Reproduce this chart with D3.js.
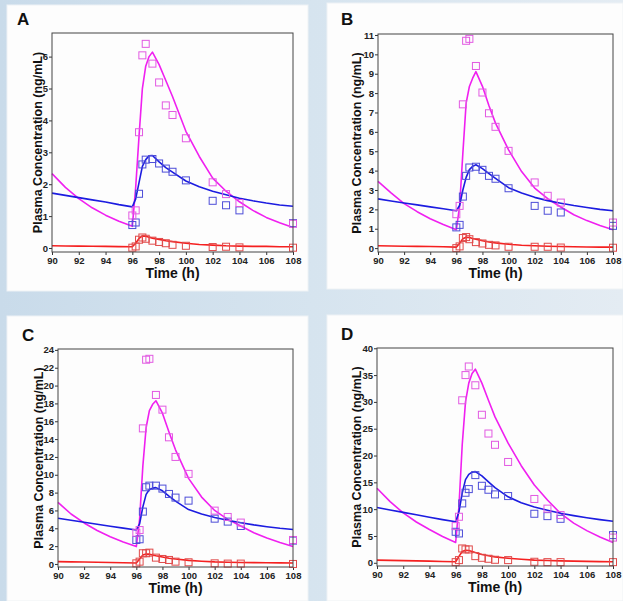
<!DOCTYPE html>
<meta charset="utf-8">
<style type="text/css">
    body {
        margin: 0;
        background: #dfe8f0;
    }
    svg {
        display: block;
    }
    text {
        font-family: "Liberation Sans", Arial, sans-serif;
        font-weight: bold;
    }
    .tick text {
        font-size: 9.5px;
        fill: #222;
    }
    .tick line {
        stroke: #333;
    }
</style>
<body>
<script src="https://cdn.jsdelivr.net/npm/d3@7"></script>
<script>
// model time grid (h)
var modelTimes = [90, 91, 92, 93, 94, 95, 96, 96.25, 96.5, 96.75, 97, 97.25, 97.5,
                  98, 98.5, 99, 100, 101, 102, 103, 104, 105, 106, 107, 108];
// observed sampling times (h)
var obsTimes = [96, 96.25, 96.5, 96.75, 97, 97.5, 98, 98.5, 99, 100, 102, 103, 104, 108];

var xTicks = [90, 92, 94, 96, 98, 100, 102, 104, 106, 108];

// Panel A
var modelA_mag  = [2.33, 1.90, 1.55, 1.26, 1.03, 0.84, 0.68, 1.9, 3.5, 5.0, 5.7, 6.0, 6.14,
                   5.75, 5.25, 4.75, 3.66, 2.87, 2.19, 1.78, 1.45, 1.18, 0.96, 0.79, 0.64];
var modelA_blue = [1.72, 1.65, 1.58, 1.51, 1.44, 1.36, 1.29, 1.54, 2.05, 2.56, 2.77, 2.89, 2.9,
                   2.7, 2.52, 2.38, 2.1, 1.92, 1.78, 1.67, 1.56, 1.48, 1.41, 1.35, 1.31];
var modelA_red  = [0.07, 0.065, 0.06, 0.055, 0.05, 0.045, 0.04, 0.15, 0.30, 0.38, 0.37, 0.34, 0.31,
                   0.27, 0.23, 0.20, 0.15, 0.11, 0.09, 0.07, 0.06, 0.05, 0.05, 0.04, 0.04];
var obsA_mag  = [1.02, 1.18, 3.63, 6.04, 6.4, 5.78, 5.19, 4.47, 4.17, 3.44, 2.06, 1.69, 1.41, 0.76];
var obsA_blue = [0.72, 0.80, 1.70, 2.62, 2.77, 2.79, 2.65, 2.49, 2.39, 2.12, 1.48, 1.34, 1.18, 0.78];
var obsA_red  = [0.01, 0.05, 0.26, 0.33, 0.29, 0.23, 0.19, 0.15, 0.10, 0.07, 0.03, 0.04, 0.02, 0.01];

// Panel B
var modelB_mag  = [3.44, 2.85, 2.3, 1.88, 1.52, 1.22, 0.95, 2.15, 4.9, 7.48, 8.34, 8.77, 9.11,
                   8.35, 7.35, 6.45, 5.07, 3.95, 3.1, 2.55, 2.12, 1.72, 1.42, 1.17, 0.95];
var modelB_blue = [2.54, 2.43, 2.33, 2.23, 2.13, 2.03, 1.93, 2.2, 3.0, 3.65, 4.05, 4.22, 4.3,
                   4.1, 3.85, 3.6, 3.12, 2.85, 2.62, 2.45, 2.32, 2.2, 2.1, 2.0, 1.93];
var modelB_red  = [0.12, 0.11, 0.1, 0.09, 0.08, 0.07, 0.05, 0.25, 0.48, 0.56, 0.55, 0.5, 0.46,
                   0.38, 0.32, 0.27, 0.2, 0.15, 0.12, 0.1, 0.08, 0.07, 0.06, 0.05, 0.05];
var obsB_mag  = [1.75, 2.18, 7.42, 10.7, 10.8, 9.4, 8.03, 6.96, 6.26, 5.02, 3.39, 2.7, 2.35, 1.32];
var obsB_blue = [1.07, 1.2, 2.66, 3.73, 4.16, 4.2, 4.04, 3.73, 3.58, 3.09, 2.18, 1.93, 1.84, 1.15];
var obsB_red  = [0.0, 0.09, 0.52, 0.57, 0.46, 0.31, 0.24, 0.17, 0.14, 0.07, 0.07, 0.07, 0.03, 0.02];

// Panel C
var modelC_mag  = [6.9, 5.6, 4.6, 3.75, 3.05, 2.45, 1.95, 5.0, 11.0, 15.3, 17.2, 17.9, 18.3,
                   16.9, 14.8, 12.8, 9.6, 7.5, 6.0, 5.0, 4.25, 3.5, 2.9, 2.4, 1.95];
var modelC_blue = [5.12, 4.9, 4.67, 4.45, 4.23, 4.02, 3.81, 4.5, 6.4, 7.8, 8.35, 8.5, 8.56,
                   8.2, 7.6, 7.05, 6.1, 5.6, 5.2, 4.9, 4.62, 4.38, 4.18, 4.0, 3.87];
var modelC_red  = [0.26, 0.24, 0.22, 0.2, 0.17, 0.14, 0.1, 0.55, 1.0, 1.12, 1.1, 1.0, 0.92,
                   0.78, 0.65, 0.55, 0.4, 0.3, 0.23, 0.2, 0.17, 0.15, 0.13, 0.12, 0.1];
var obsC_mag  = [3.5, 3.8, 15.2, 22.9, 23.0, 18.95, 17.3, 14.2, 12.0, 10.1, 5.98, 5.27, 4.64, 2.69];
var obsC_blue = [2.69, 2.77, 5.87, 8.6, 8.78, 8.78, 8.45, 7.85, 7.44, 7.1, 5.08, 4.75, 4.26, 2.62];
var obsC_red  = [0.07, 0.26, 1.2, 1.2, 1.27, 0.71, 0.56, 0.45, 0.26, 0.19, 0.07, 0.04, 0.04, 0.0];

// Panel D
var modelD_mag  = [13.9, 11.4, 9.3, 7.6, 6.2, 4.9, 3.8, 10.5, 22.0, 30.0, 33.5, 35.3, 36.1,
                   33.5, 30.3, 27.2, 22.3, 18.1, 14.5, 11.7, 9.2, 7.4, 6.0, 4.8, 3.8];
var modelD_blue = [10.3, 9.85, 9.4, 8.95, 8.5, 8.05, 7.65, 9.5, 13.0, 15.5, 16.5, 16.9, 17.0,
                   16.2, 15.1, 14.0, 12.3, 11.2, 10.4, 9.8, 9.25, 8.8, 8.4, 8.05, 7.75];
var modelD_red  = [0.5, 0.45, 0.4, 0.35, 0.3, 0.25, 0.2, 1.2, 2.1, 2.35, 2.3, 2.1, 1.9,
                   1.55, 1.3, 1.1, 0.85, 0.65, 0.5, 0.42, 0.35, 0.3, 0.26, 0.22, 0.2];
var obsD_mag  = [6.84, 8.58, 30.3, 35.0, 36.6, 33.1, 27.6, 24.1, 22.0, 18.8, 11.9, 10.1, 8.9, 4.7];
var obsD_blue = [5.78, 5.47, 11.07, 13.06, 13.74, 16.35, 14.36, 13.62, 12.75, 12.44, 9.14, 8.7, 8.2, 5.16];
var obsD_red  = [0.12, 0.5, 2.67, 2.49, 2.49, 1.24, 0.93, 0.75, 0.56, 0.5, 0.19, 0.12, 0.12, 0.12];

var yTicksA = d3.range(0, 7, 1),
    yTicksB = d3.range(0, 12, 1),
    yTicksC = d3.range(0, 25, 2),
    yTicksD = d3.range(0, 41, 5);

// line / marker colours
var lineColors = {mag: "#f020f0", blue: "#1c1ce0", red: "#f52020"};
var markColors = {mag: "#e25ae2", blue: "#4d4dd8", red: "#e04a4a"};

var panels = [
    {label: "A", card: [7, 5, 308, 291], box: [52, 33, 293, 252], ydom: [-0.125, 6.74], ticks: yTicksA,
     titleX: 42, model: {mag: modelA_mag, blue: modelA_blue, red: modelA_red},
     obs: {mag: obsA_mag, blue: obsA_blue, red: obsA_red}},
    {label: "B", card: [327, 3, 623, 289], box: [378, 34, 613, 252], ydom: [-0.2, 11.05], ticks: yTicksB,
     titleX: 361, model: {mag: modelB_mag, blue: modelB_blue, red: modelB_red},
     obs: {mag: obsB_mag, blue: obsB_blue, red: obsB_red}},
    {label: "C", card: [7, 316, 308, 601], box: [58, 349, 293, 567], ydom: [-0.34, 24.1], ticks: yTicksC,
     titleX: 43, model: {mag: modelC_mag, blue: modelC_blue, red: modelC_red},
     obs: {mag: obsC_mag, blue: obsC_blue, red: obsC_red}},
    {label: "D", card: [327, 315, 623, 601], box: [377, 348, 613, 566], ydom: [-0.6, 40.05], ticks: yTicksD,
     titleX: 361, model: {mag: modelD_mag, blue: modelD_blue, red: modelD_red},
     obs: {mag: obsD_mag, blue: obsD_blue, red: obsD_red}}
];

var W = 623, H = 601;

var svg = d3.select("body").append("svg")
    .attr("width", W)
    .attr("height", H);

// soft backdrop
var defs = svg.append("defs");
var grad = defs.append("linearGradient").attr("id", "bg")
    .attr("x1", 0).attr("y1", 0).attr("x2", 1).attr("y2", 0);
grad.append("stop").attr("offset", "0%").attr("stop-color", "#c9dbea");
grad.append("stop").attr("offset", "50%").attr("stop-color", "#d6e4ef");
grad.append("stop").attr("offset", "100%").attr("stop-color", "#e4ecf3");
svg.append("rect").attr("width", W).attr("height", H).attr("fill", "url(#bg)");

panels.forEach(drawPanel);

function drawPanel(p) {
    var c = p.card, b = p.box;

    svg.append("rect")
        .attr("x", c[0]).attr("y", c[1])
        .attr("width", c[2] - c[0]).attr("height", c[3] - c[1])
        .attr("fill", "#fdfdfd")
        .attr("stroke", "#eef2f5");

    var x = d3.scaleLinear().domain([90, 108]).range([b[0], b[2]]);
    var y = d3.scaleLinear().domain(p.ydom).range([b[3], b[1]]);

    var g = svg.append("g");

    // axes
    g.append("g")
        .attr("transform", "translate(0," + b[3] + ")")
        .call(d3.axisBottom(x).tickValues(xTicks).tickFormat(d3.format("d"))
            .tickSize(3).tickPadding(2).tickSizeOuter(0))
        .call(function(a) { a.select(".domain").remove(); });

    g.append("g")
        .attr("transform", "translate(" + b[0] + ",0)")
        .call(d3.axisLeft(y).tickValues(p.ticks).tickFormat(d3.format("d"))
            .tickSize(3).tickPadding(1).tickSizeOuter(0))
        .call(function(a) { a.select(".domain").remove(); });

    // lines
    var line = d3.line()
        .x(function(d) { return x(d[0]); })
        .y(function(d) { return y(d[1]); });

    ["mag", "blue", "red"].forEach(function(k) {
        g.append("path")
            .datum(d3.zip(modelTimes, p.model[k]))
            .attr("fill", "none")
            .attr("stroke", lineColors[k])
            .attr("stroke-width", 1.6)
            .attr("stroke-linejoin", "round")
            .attr("d", line);
    });

    // observed squares
    var s = 7;
    ["red", "blue", "mag"].forEach(function(k) {
        g.append("g").selectAll("rect")
            .data(d3.zip(obsTimes, p.obs[k]))
            .enter().append("rect")
            .attr("x", function(d) { return x(d[0]) - s / 2; })
            .attr("y", function(d) { return y(d[1]) - s / 2; })
            .attr("width", s).attr("height", s)
            .attr("fill", "none")
            .attr("stroke", markColors[k])
            .attr("stroke-width", 1);
    });

    // frame
    g.append("rect")
        .attr("x", b[0]).attr("y", b[1])
        .attr("width", b[2] - b[0]).attr("height", b[3] - b[1])
        .attr("fill", "none")
        .attr("stroke", "#444")
        .attr("stroke-width", 1);

    // titles
    g.append("text")
        .attr("transform", "translate(" + p.titleX + "," + (b[1] + b[3]) / 2 + ") rotate(-90)")
        .attr("text-anchor", "middle")
        .style("font-size", "12.5px")
        .attr("fill", "#111")
        .text("Plasma Concentration (ng/mL)");

    g.append("text")
        .attr("x", (b[0] + b[2]) / 2)
        .attr("y", b[3] + 26)
        .attr("text-anchor", "middle")
        .style("font-size", "14px")
        .attr("fill", "#111")
        .text("Time (h)");

    g.append("text")
        .attr("x", c[0] + 10 + (p.label === "C" ? 5 : 0) + (p.label === "B" || p.label === "D" ? 4 : 0))
        .attr("y", p.label === "A" || p.label === "B" ? 25 : c[1] + 25)
        .style("font-size", "17px")
        .attr("fill", "#111")
        .text(p.label);
}
</script>
</body>
